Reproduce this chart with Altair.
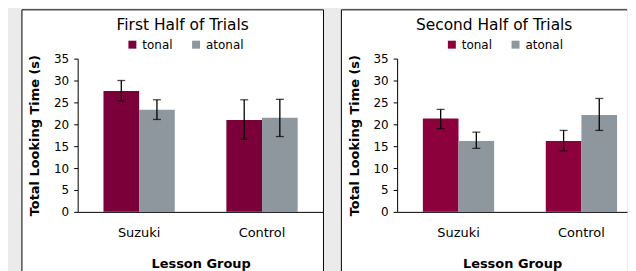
import altair as alt
import pandas as pd

groups = ["Suzuki", "Control"]
series = ["tonal", "atonal"]

# First half of trials
first_tonal = [27.6, 21.0]
first_tonal_lo = [25.3, 16.6]
first_tonal_hi = [30.0, 25.6]
first_atonal = [23.3, 21.5]
first_atonal_lo = [21.1, 17.2]
first_atonal_hi = [25.6, 25.7]

# Second half of trials
second_tonal = [21.3, 16.2]
second_tonal_lo = [19.0, 13.9]
second_tonal_hi = [23.4, 18.6]
second_atonal = [16.2, 22.1]
second_atonal_lo = [14.5, 18.6]
second_atonal_hi = [18.2, 25.9]

y_ticks = [0, 5, 10, 15, 20, 25, 30, 35]

GRAY = "#8e979e"
FONT = "DejaVu Sans"
Y_TITLE = "Total Looking Time (s)"


def make_df(tonal, tlo, thi, atonal, alo, ahi):
    rows = []
    for i, g in enumerate(groups):
        rows.append(dict(group=g, series="tonal", value=tonal[i], lo=tlo[i], hi=thi[i]))
        rows.append(dict(group=g, series="atonal", value=atonal[i], lo=alo[i], hi=ahi[i]))
    return pd.DataFrame(rows)


def panel(df, title, tonal_color, width, x_scale, closed):
    base = alt.Chart(df)
    x_axis = alt.Axis(
        labelAngle=0, ticks=False, tickSize=0, labelPadding=15, titlePadding=18,
        labelFontSize=13, titleFontSize=13, titleFontWeight="bold", zindex=1,
        domainColor="black", labelColor="black", titleColor="black",
    )
    xo = alt.XOffset("series:N", sort=series, scale=alt.Scale(paddingInner=0, paddingOuter=0))
    y_axis = alt.Axis(
        values=y_ticks, grid=False, tickSize=4, labelPadding=5, titlePadding=12,
        labelFontSize=12, titleFontSize=13, titleFontWeight="bold", zindex=1,
        domainColor="black", tickColor="black", labelColor="black", titleColor="black",
    )
    y_scale = alt.Scale(domain=[0, 35], nice=False)

    def X():
        return alt.X("group:N", sort=groups, title="Lesson Group", scale=x_scale, axis=x_axis)

    one = alt.Data(values=[{"k": 1}])
    if closed:
        frame = [alt.Chart(one).mark_rect(fill="white", stroke="black", strokeWidth=1).encode(
            x=alt.value(-56), x2=alt.value(width), y=alt.value(-49), y2=alt.value(300))]
    else:
        frame = [
            alt.Chart(one).mark_rect(fill="white").encode(
                x=alt.value(-56), x2=alt.value(width), y=alt.value(-49), y2=alt.value(300)),
            alt.Chart(one).mark_rule(color="black", strokeWidth=1).encode(
                x=alt.value(-56), y=alt.value(-49), y2=alt.value(300)),
            alt.Chart(one).mark_rule(color="black", strokeWidth=1).encode(
                x=alt.value(-56), x2=alt.value(width), y=alt.value(-49)),
        ]

    bars = base.mark_bar().encode(
        x=X(), xOffset=xo,
        y=alt.Y("value:Q", title=Y_TITLE, scale=y_scale, axis=y_axis),
        color=alt.Color(
            "series:N", sort=series,
            scale=alt.Scale(domain=series, range=[tonal_color, GRAY]),
            legend=alt.Legend(
                title=None, orient="none", legendX=49, legendY=-20, direction="horizontal",
                symbolType="square", symbolSize=64, symbolStrokeWidth=0,
                labelFontSize=12, labelColor="black", labelOffset=4, columnPadding=17, padding=0,
            ),
        ),
    )
    rules = base.mark_rule(color="black", strokeWidth=1.3).encode(
        x=X(), xOffset=xo,
        y=alt.Y("lo:Q", title=Y_TITLE, scale=y_scale, axis=y_axis),
        y2="hi:Q",
    )
    cap_lo = base.mark_tick(color="black", size=8, thickness=1.3).encode(
        x=X(), xOffset=xo, y=alt.Y("lo:Q", title=Y_TITLE, scale=y_scale, axis=y_axis)
    )
    cap_hi = base.mark_tick(color="black", size=8, thickness=1.3).encode(
        x=X(), xOffset=xo, y=alt.Y("hi:Q", title=Y_TITLE, scale=y_scale, axis=y_axis)
    )
    return alt.layer(*frame, bars, rules, cap_lo, cap_hi).properties(
        width=width, height=154,
        title=alt.TitleParams(
            title, anchor="middle", frame="group", dx=-18, dy=36, offset=0,
            baseline="alphabetic", fontSize=15.5, fontWeight="normal", color="black",
        ),
    )


left = panel(
    make_df(first_tonal, first_tonal_lo, first_tonal_hi,
            first_atonal, first_atonal_lo, first_atonal_hi),
    "First Half of Trials", "#7b0039", 247,
    alt.Scale(paddingInner=0.42, paddingOuter=0.21), True,
)
right = panel(
    make_df(second_tonal, second_tonal_lo, second_tonal_hi,
            second_atonal, second_atonal_lo, second_atonal_hi),
    "Second Half of Trials", "#8c003c", 231,
    alt.Scale(paddingInner=0.42, paddingOuter=0.145, align=0.722), False,
)

chart = alt.hconcat(left, right, spacing=16).resolve_scale(
    color="independent", x="independent", y="independent"
).properties(
    background="#ebebeb",
    padding={"left": 13, "top": 0, "right": 0, "bottom": 0},
).configure(font=FONT).configure_view(stroke=None)

chart.save("out.html", embed_options={"renderer": "svg", "actions": False})
